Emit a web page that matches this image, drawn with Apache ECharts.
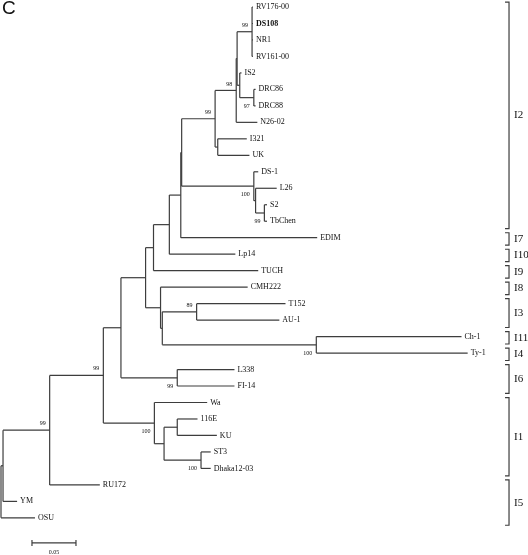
<!DOCTYPE html>
<html><head><meta charset="utf-8">
<script src="https://cdn.jsdelivr.net/npm/echarts/dist/echarts.min.js"></script>
<style>html,body{margin:0;padding:0;background:#fff}#c{width:528px;height:555px}</style>
</head><body><div id="c"></div><script>
// ---- Tree data (preorder; internal nodes prefixed with '#') ----
const nodeIds = ['#root','#A','#B','#C','#D','#E','#G','#M','#N','#N2','#Q','#Q98','#T','#R1',
  'RV176-00','DS108','NR1','RV161-00','#S','IS2','#DRC','DRC86','DRC88','N26-02','#IU','I321','UK',
  '#P','DS-1','#P2','L26','#P3','S2','TbChen','EDIM','Lp14','TUCH','#F','CMH222','#H','#TA','T152','AU-1',
  '#CT','Ch-1','Ty-1','#I6','L338','FI-14','#I1','Wa','#J','#K','116E','KU','#L','ST3','Dhaka12-03',
  'RU172','YM','OSU'];
const nodeParents = [null,'#root','#A','#B','#C','#D','#E','#G','#M','#N','#N2','#Q','#Q98','#T',
  '#R1','#R1','#R1','#R1','#T','#S','#S','#DRC','#DRC','#Q98','#Q','#IU','#IU',
  '#N2','#P','#P','#P2','#P2','#P3','#P3','#N','#M','#G','#E','#F','#F','#H','#TA','#TA',
  '#H','#CT','#CT','#D','#I6','#I6','#C','#I1','#I1','#J','#K','#K','#J','#L','#L',
  '#B','#A','#root'];
const branchLengths = [0,0.0023,0.053,0.061,0.020,0.028,0.009,0.018,0.013,0.001,0.038,0.024,0.001,0.017,
  0.001,0.001,0.001,0.001,0.003,0.002,0.016,0.002,0.002,0.024,0.003,0.033,0.036,
  0.082,0.005,0.002,0.024,0.010,0.003,0.003,0.155,0.075,0.119,0.017,0.099,0.002,0.039,0.101,0.094,
  0.175,0.165,0.172,0.064,0.065,0.065,0.058,0.060,0.011,0.015,0.023,0.045,0.042,0.011,0.011,
  0.057,0.016,0.0386];
const boldLeaves = ['DS108'];
// ---- Bootstrap support ----
const bootNodes  = ['#R1','#Q98','#Q','#DRC','#P','#P3','#TA','#CT','#B','#C','#I6','#I1','#L'];
const bootValues = [99,98,99,97,100,99,89,100,99,99,99,100,100];
const bootPlace  = ['above','above','above','below','below','below','above','below','above','above','below','below','below'];
// ---- Genotype clades ----
const cladeNames = ['I2','I7','I10','I9','I8','I3','I11','I4','I6','I1','I5'];
const cladeFirst = ['RV176-00','EDIM','Lp14','TUCH','CMH222','T152','Ch-1','Ty-1','L338','Wa','RU172'];
const cladeLast  = ['TbChen','EDIM','Lp14','TUCH','CMH222','AU-1','Ch-1','Ty-1','FI-14','Dhaka12-03','OSU'];
const scaleBarLength = 0.05;
const scaleBarLabel = '0.05';

// ---- Layout from data ----
const children = {}, bl = {}, depth = {}, row = {};
nodeIds.forEach((id, i) => { children[id] = []; bl[id] = branchLengths[i]; });
nodeIds.forEach((id, i) => { if (nodeParents[i] !== null) children[nodeParents[i]].push(id); });
let leafCount = 0; const leaves = [];
function walk(id, d) {
  depth[id] = d + bl[id];
  const ch = children[id];
  if (!ch.length) { row[id] = leafCount++; leaves.push(id); }
  else { ch.forEach(c => walk(c, depth[id])); row[id] = (row[ch[0]] + row[ch[ch.length - 1]]) / 2; }
}
walk(nodeIds[0], 0);

const segs = [];
nodeIds.forEach((id, i) => {
  const p = nodeParents[i];
  if (p !== null) segs.push([depth[p], row[id], depth[id], row[id]]);
  const ch = children[id];
  if (ch.length) segs.push([depth[id], row[ch[0]], depth[id], row[ch[ch.length - 1]]]);
});

const LINE = '#3d3d3d';
const SERIF = '"Liberation Serif","Times New Roman",serif';
const BRACKET_X = 0.5773;
const SCALE_X = 0.0352, SCALE_ROW = 32.52;

const option = {
  animation: false,
  backgroundColor: '#fff',
  grid: { left: 1, top: 0.41, width: 519.2, height: 553.7 },
  xAxis: { type: 'value', min: 0, max: 0.59, show: false },
  yAxis: { type: 'value', min: -0.4, max: 33.2, inverse: true, show: false },
  graphic: [{ type: 'text', left: 2, top: -1, style: { text: 'C', font: '19px "Liberation Sans", Arial, sans-serif', fill: '#111' } }],
  series: [
    { type: 'custom', name: 'branches', data: segs, clip: false,
      renderItem: (params, api) => {
        const a = api.coord([api.value(0), api.value(1)]);
        const b = api.coord([api.value(2), api.value(3)]);
        return { type: 'line', shape: { x1: a[0], y1: a[1], x2: b[0], y2: b[1] },
          style: { stroke: LINE, lineWidth: 1.2 } };
      } },
    { type: 'custom', name: 'leaves', data: leaves.map(l => [depth[l], row[l]]), clip: false,
      renderItem: (params, api) => {
        const name = leaves[params.dataIndex];
        const p = api.coord([api.value(0), api.value(1)]);
        return { type: 'text', x: p[0] + 3, y: p[1],
          style: { text: name, textVerticalAlign: 'middle', textAlign: 'left', fill: '#111',
            font: (boldLeaves.includes(name) ? 'bold ' : '') + '8px ' + SERIF } };
      } },
    { type: 'custom', name: 'bootstrap', data: bootNodes.map(n => [depth[n], row[n]]), clip: false,
      renderItem: (params, api) => {
        const i = params.dataIndex;
        const p = api.coord([api.value(0), api.value(1)]);
        const above = bootPlace[i] === 'above';
        return { type: 'text', x: p[0] - 4, y: p[1] + (above ? -3.5 : 5.5),
          style: { text: String(bootValues[i]), textAlign: 'right', textVerticalAlign: above ? 'bottom' : 'top',
            fill: '#111', font: '6px ' + SERIF } };
      } },
    { type: 'custom', name: 'clades', data: cladeNames.map((c, i) => [BRACKET_X, row[cladeFirst[i]] - 0.3, row[cladeLast[i]] + 0.45]), clip: false,
      renderItem: (params, api) => {
        const t = api.coord([api.value(0), api.value(1)]);
        const b = api.coord([api.value(0), api.value(2)]);
        const x = t[0];
        return { type: 'group', children: [
          { type: 'polyline', shape: { points: [[x - 4, t[1]], [x, t[1]], [x, b[1]], [x - 4, b[1]]] },
            style: { stroke: LINE, lineWidth: 1.2, fill: null } },
          { type: 'text', x: x + 5, y: (t[1] + b[1]) / 2,
            style: { text: cladeNames[params.dataIndex], textVerticalAlign: 'middle', fill: '#111', font: '11px ' + SERIF } }
        ] };
      } },
    { type: 'custom', name: 'scalebar', data: [[SCALE_X, SCALE_ROW, SCALE_X + scaleBarLength]], clip: false,
      renderItem: (params, api) => {
        const a = api.coord([api.value(0), api.value(1)]);
        const b = api.coord([api.value(2), api.value(1)]);
        return { type: 'group', children: [
          { type: 'line', shape: { x1: a[0], y1: a[1], x2: b[0], y2: b[1] }, style: { stroke: LINE, lineWidth: 1.2 } },
          { type: 'line', shape: { x1: a[0], y1: a[1] - 3, x2: a[0], y2: a[1] + 3 }, style: { stroke: LINE, lineWidth: 1.2 } },
          { type: 'line', shape: { x1: b[0], y1: b[1] - 3, x2: b[0], y2: b[1] + 3 }, style: { stroke: LINE, lineWidth: 1.2 } },
          { type: 'text', x: (a[0] + b[0]) / 2, y: a[1] + 7, style: { text: scaleBarLabel, textAlign: 'center', textVerticalAlign: 'top', fill: '#111', font: '6px ' + SERIF } }
        ] };
      } }
  ]
};
echarts.init(document.getElementById('c')).setOption(option);
</script></body></html>
